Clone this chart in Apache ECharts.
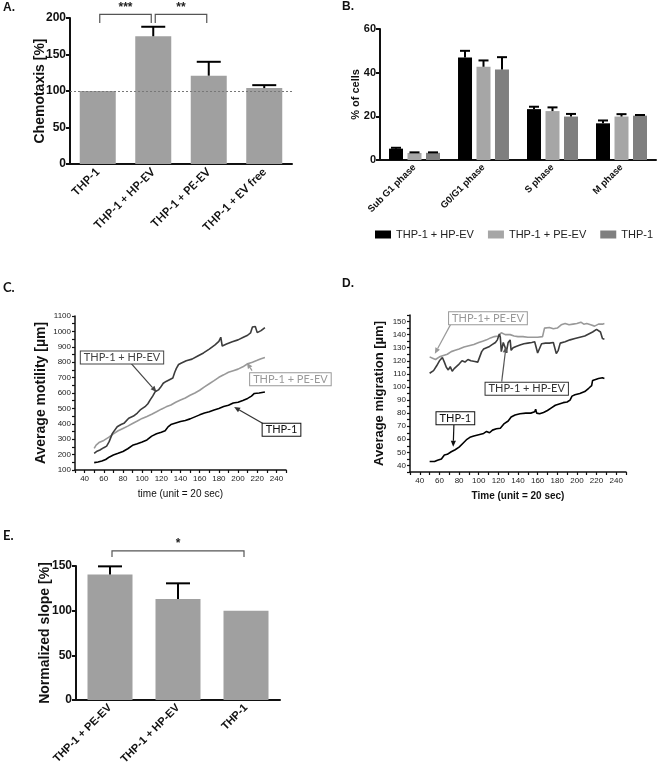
<!DOCTYPE html>
<html><head><meta charset="utf-8">
<script src="https://cdn.jsdelivr.net/npm/echarts@6/dist/echarts.min.js"></script>
<style>html,body{margin:0;padding:0;background:#fff}#c{width:660px;height:771px}</style>
</head><body><div id="c"></div>
<script>
// ---------- Panel A: chemotaxis ----------
const catsA = ['THP-1', 'THP-1 + HP-EV', 'THP-1 + PE-EV', 'THP-1 + EV free'];
const valsA = [100, 175, 121, 104];
const errA  = [0, 13, 19, 4];
const bracketsA = [[0, 1, 205, 193, '***'], [1, 2, 205, 193, '**']];

// ---------- Panel B: cell cycle ----------
const catsB = ['Sub G1 phase', 'G0/G1 phase', 'S phase', 'M phase'];
const namesB = ['THP-1 + HP-EV', 'THP-1 + PE-EV', 'THP-1'];
const hpB  = [5.2, 47.0, 23.3, 16.8];
const hpBe = [0.4, 3.0, 1.1, 1.3];
const peB  = [3.2, 42.7, 22.4, 19.9];
const peBe = [0.3, 2.9, 1.7, 1.1];
const thB  = [3.3, 41.5, 19.9, 20.3];
const thBe = [0.2, 5.6, 1.2, 0.3];

// ---------- Panel C: average motility ----------
const motHp = [[50,208],[53,222],[56,230],[60,245],[63,255],[65.6,284],[69,338],[74,381],[78,395],[81,403],[86,436],[91,450],[95,470],[98,490],[103,511],[106,530],[108.4,555],[111,580],[113.5,608],[117,620],[119,635],[122,663],[125,675],[127,684],[132,697],[134,735],[135.7,760],[138,785],[141,795],[146,810],[152,820],[158,840],[164,860],[170,885],[176,912],[180,935],[182,962],[183.5,905],[188,918],[194,933],[200,945],[205,960],[210,975],[213,990],[215,1028],[218,1032],[220,992],[224,1005],[228,1025]];
const motPe = [[50,240],[52,262],[55,278],[60,292],[65,312],[70,335],[75,355],[80,370],[85,385],[90,402],[95,418],[100,435],[105,448],[110,462],[115,478],[120,495],[125,510],[130,522],[135,540],[140,555],[145,568],[150,585],[155,600],[160,618],[165,640],[170,660],[175,680],[180,702],[185,718],[190,735],[195,745],[200,755],[205,770],[210,790],[215,800],[220,812],[224,822],[228,830]];
const motTh = [[50,148],[54,152],[58,158],[62,168],[66,185],[70,197],[75,208],[80,220],[85,238],[90,260],[95,270],[100,282],[105,295],[110,320],[115,335],[120,345],[124,355],[127,380],[130,395],[135,405],[140,415],[145,422],[150,432],[155,445],[160,458],[165,470],[170,478],[175,490],[180,500],[185,512],[190,520],[195,535],[200,540],[205,552],[210,565],[214,580],[217,597],[222,600],[228,607]];

// ---------- Panel D: average migration ----------
const migTh = [[50,43],[55,43],[58,44],[62,45],[64,46],[65,48],[68,48.5],[72,50.5],[76,52],[80,54],[84,57],[88,60],[91,61.5],[95,62.5],[100,63.5],[105,64.5],[108,66],[111,65],[114,67],[118,68],[122,68.5],[124,68],[126,72],[130,74],[133,77],[137,78.5],[142,79.5],[148,80],[153,80],[157,81],[158,83],[159,80],[162,79.5],[166,80.5],[170,82],[174,84],[178,86],[182,87],[186,88],[190,88.5],[193,90],[195,93],[198,94],[203,95],[208,96.5],[212,99],[215,101],[216,105],[218,106.5],[222,106.5],[226,107],[228,106.5]];
const migPe = [[50,123],[53,122],[56,121],[60,123],[64,124],[68,125],[72,127],[76,128],[80,129],[85,130.5],[90,131.5],[95,132.5],[100,134],[104,135],[108,136],[112,137.5],[116,138.5],[120,139],[123,141.5],[127,140],[132,140],[136,139],[140,138.5],[145,138.5],[150,138],[155,138],[160,138],[165,138.5],[167,145],[172,145.5],[176,144.5],[180,145],[184,147.5],[188,148.5],[192,147.5],[196,148],[200,148.5],[204,149.5],[207,148],[210,148.5],[214,147.5],[218,146.5],[222,148],[226,148],[228,148.5]];
const migHp = [[50,110.5],[52,110],[54,112.5],[57,116],[60,120],[63,122.5],[65,119],[67,115],[69,113],[71,115.5],[73,112],[75,114],[77,115.5],[80,117.5],[83,120],[86,119],[89,121],[92,120],[96,119.5],[99,119],[101,123],[103,127],[105,129],[108,130],[111,131],[114,132.5],[117,134],[119,136],[121,140.5],[122,138],[123,127],[125,134],[127,130],[128,126],[130,134],[132,136],[133,128],[135,130],[138,131],[142,132],[146,133],[150,133.5],[154,134],[157,134.5],[159,135],[160,126],[162,125.5],[164,133],[168,133.5],[172,133.5],[176,134],[178,133],[179,125.5],[181,128],[183,133.5],[188,134.5],[193,136],[198,137],[203,138],[208,139],[212,140.5],[216,142],[220,144],[222,145],[224,142],[225,141],[226,137],[228,136.5]];

// ---------- Panel E: normalized slope ----------
const catsE = ['THP-1 + PE-EV', 'THP-1 + HP-EV', 'THP-1'];
const valsE = [140.6, 113, 100];
const errE  = [9, 17.6, 0];
const bracketsE = [[0, 2, 167, 160, '*']];

// ---------- annotations (data coordinates) ----------
const notesC = [
  {text:'THP-1 + HP-EV', box:[79,830], from:[88,795], tip:[115,606], color:'#444', line:'#444'},
  {text:'THP-1 + PE-EV', box:[254.6,690], from:[214.6,745], tip:[209.2,797], color:'#999', line:'#999'},
  {text:'THP-1', box:[245.3,362], from:[228.7,392], tip:[195.9,509], color:'#111', line:'#333'}
];
const notesD = [
  {text:'THP-1+ PE-EV', box:[109.4,152.6], from:[72.1,148.8], tip:[55.3,125.3], color:'#999', line:'#999'},
  {text:'THP-1 + HP-EV', box:[148.9,98.6], from:[123.4,104.1], tip:[127.8,130.9], color:'#333', line:'#555'},
  {text:'THP-1', box:[76.2,76], from:[74.7,70.9], tip:[74,54.3], color:'#111', line:'#111'}
];

const AR = 'Liberation Sans, Arial, sans-serif';
const CAL = 'Lato, Open Sans, sans-serif';

function errSeries(xi, yi, vals, errs, offset, capW) {
  return {
    type: 'custom', xAxisIndex: xi, yAxisIndex: yi, z: 5, silent: true,
    data: vals.map((v, i) => [i, v, v + errs[i]]),
    renderItem: (p, api) => {
      if (api.value(2) <= api.value(1)) return null;
      const b = api.coord([api.value(0), api.value(1)]);
      const t = api.coord([api.value(0), api.value(2)]);
      const x = b[0] + offset;
      return {type: 'group', children: [
        {type: 'line', shape: {x1: x, y1: b[1], x2: x, y2: t[1]}, style: {stroke: '#000', lineWidth: 2}},
        {type: 'line', shape: {x1: x - capW / 2, y1: t[1], x2: x + capW / 2, y2: t[1]}, style: {stroke: '#000', lineWidth: 2}}
      ]};
    }
  };
}
function bracketSeries(xi, yi, brs) {
  return {
    type: 'custom', xAxisIndex: xi, yAxisIndex: yi, z: 5, silent: true, clip: false,
    data: brs.map(b => [b[0], b[1], b[2], b[3]]),
    renderItem: (p, api) => {
      const l = api.coord([api.value(0), api.value(2)]);
      const r = api.coord([api.value(1), api.value(2)]);
      const leg = api.coord([api.value(0), api.value(3)]);
      const x1 = l[0] + 2, x2 = r[0] - 2;
      return {type: 'group', children: [
        {type: 'polyline', shape: {points: [[x1, leg[1]], [x1, l[1]], [x2, l[1]], [x2, leg[1]]]}, style: {stroke: '#555', lineWidth: 1.2, fill: null}},
        {type: 'text', x: (x1 + x2) / 2, y: l[1] - 1, style: {text: brs[p.dataIndex][4], align: 'center', verticalAlign: 'bottom', fill: '#222', font: 'bold 12px ' + AR}}
      ]};
    }
  };
}
function noteSeries(xi, yi, notes) {
  return {
    type: 'custom', xAxisIndex: xi, yAxisIndex: yi, z: 10, silent: true, clip: false,
    data: notes.map(n => [n.box[0], n.box[1], n.from[0], n.from[1], n.tip[0], n.tip[1]]),
    renderItem: (p, api) => {
      const n = notes[p.dataIndex];
      const b = api.coord([api.value(0), api.value(1)]);
      const f = api.coord([api.value(2), api.value(3)]);
      const t = api.coord([api.value(4), api.value(5)]);
      const dx = t[0] - f[0], dy = t[1] - f[1], L = Math.hypot(dx, dy), ux = dx / L, uy = dy / L;
      const hl = 6, hw = 2.6;
      const bx = t[0] - ux * hl, by = t[1] - uy * hl;
      return {type: 'group', children: [
        {type: 'line', shape: {x1: f[0], y1: f[1], x2: bx, y2: by}, style: {stroke: n.line, lineWidth: 1.2}},
        {type: 'polygon', shape: {points: [[t[0], t[1]], [bx - uy * hw, by + ux * hw], [bx + uy * hw, by - ux * hw]]}, style: {fill: n.line}},
        {type: 'text', x: b[0], y: b[1], style: {text: n.text, align: 'center', verticalAlign: 'middle', fill: n.color, font: '11px ' + CAL, backgroundColor: '#fff', borderColor: n.color, borderWidth: 1, padding: [1, 3, 0, 3]}}
      ]};
    }
  };
}

const boldAxis = {lineStyle: {color: '#111', width: 2}};
const catX = (gi, data, size, fam) => ({
  type: 'category', gridIndex: gi, data: data,
  axisLine: boldAxis, axisTick: {alignWithLabel: true, length: 4, lineStyle: {color: '#111', width: 2}},
  axisLabel: {rotate: 45, interval: 0, margin: 6, fontSize: size, fontWeight: 'bold', fontFamily: fam, color: '#111'}
});
const valY = (gi, min, max, interval, name, nameGap, nameSize, labelSize) => ({
  type: 'value', gridIndex: gi, min: min, max: max, interval: interval,
  splitLine: {show: false}, axisLine: {show: true, lineStyle: {color: '#111', width: 2}},
  axisTick: {show: true, length: 4, lineStyle: {color: '#111', width: 2}},
  axisLabel: {fontSize: labelSize, fontWeight: 'bold', fontFamily: AR, color: '#111', margin: 4},
  name: name, nameLocation: 'middle', nameGap: nameGap, nameMoveOverlap: false,
  nameTextStyle: {fontSize: nameSize, fontWeight: 'bold', fontFamily: AR, color: '#111'}
});
const lineX = (gi, name, bold) => ({
  type: 'value', gridIndex: gi, min: 30, max: 250, interval: 10,
  splitLine: {show: false}, axisLine: {lineStyle: {color: '#111', width: 1.5}},
  axisTick: {show: true, length: 3, lineStyle: {color: '#111', width: 1.2}},
  axisLabel: {interval: 0, fontSize: 8, fontFamily: AR, color: '#222', margin: 5,
    formatter: v => (v % 20 === 0 && v >= 40 && v <= 240) ? String(v) : ''},
  name: name, nameLocation: 'middle', nameGap: 19, nameMoveOverlap: false,
  nameTextStyle: {fontSize: 10, fontWeight: bold ? 'bold' : 'normal', fontFamily: AR, color: '#111'}
});
const lineY = (gi, min, max, interval, step, name, gap, size) => ({
  type: 'value', gridIndex: gi, min: min, max: max, interval: interval,
  splitLine: {show: false}, axisLine: {show: true, lineStyle: {color: '#111', width: 1.5}},
  axisTick: {show: true, length: 3, lineStyle: {color: '#111', width: 1.2}},
  axisLabel: {interval: 0, fontSize: 8, fontFamily: AR, color: '#222', margin: 4,
    formatter: v => (v % step === 0) ? String(v) : ''},
  name: name, nameLocation: 'middle', nameGap: gap, nameMoveOverlap: false,
  nameTextStyle: {fontSize: size, fontWeight: 'bold', fontFamily: AR, color: '#111'}
});
const lineS = (name, xi, yi, data, color) => ({
  type: 'line', name: name, xAxisIndex: xi, yAxisIndex: yi, data: data, showSymbol: false,
  symbol: 'none', lineStyle: {color: color, width: 1.6}, itemStyle: {color: color}, z: 3
});

const colB = ['#000000', '#a6a6a6', '#7f7f7f'];
const valsB = [hpB, peB, thB], errsB = [hpBe, peBe, thBe];
const barW = 14, barStep = 18.5;

const option = {
  animation: false,
  backgroundColor: '#fff',
  grid: [
    {left: 70, top: 18, width: 222, height: 146, outerBoundsMode: 'none'},
    {left: 380, top: 29, width: 276, height: 131, outerBoundsMode: 'none'},
    {left: 75, top: 316, width: 211, height: 154, outerBoundsMode: 'none'},
    {left: 410, top: 315, width: 216, height: 157, outerBoundsMode: 'none'},
    {left: 76, top: 566, width: 204, height: 134, outerBoundsMode: 'none'}
  ],
  legend: {
    data: namesB, left: 375, top: 229, width: 300, padding: 0, itemWidth: 16, itemHeight: 8, itemGap: 14, icon: 'rect',
    textStyle: {fontSize: 11, fontFamily: AR, color: '#222'}, selectedMode: false
  },
  xAxis: [
    catX(0, catsA, 11.5, CAL),
    catX(1, catsB, 9.5, AR),
    lineX(2, 'time (unit = 20 sec)', false),
    lineX(3, 'Time (unit = 20 sec)', true),
    catX(4, catsE, 11, AR)
  ],
  yAxis: [
    valY(0, 0, 200, 50, 'Chemotaxis [%]', 23, 14, 12),
    valY(1, 0, 60, 20, '% of cells', 19, 11, 11),
    lineY(2, 100, 1100, 50, 100, 'Average motility [µm]', 27, 14),
    lineY(3, 35, 155, 5, 10, 'Average migration [µm]', 24, 13),
    valY(4, 0, 150, 50, 'Normalized slope [%]', 24, 14, 12)
  ],
  graphic: [
    {type: 'text', left: 3, top: 2, style: {text: 'A.', font: 'bold 12px ' + AR, fill: '#111'}},
    {type: 'text', left: 342, top: 1, style: {text: 'B.', font: 'bold 12px ' + AR, fill: '#111'}},
    {type: 'text', left: 3, top: 281, style: {text: 'C.', font: 'bold 13px ' + CAL, fill: '#111'}},
    {type: 'text', left: 342, top: 278, style: {text: 'D.', font: 'bold 12px ' + AR, fill: '#111'}},
    {type: 'text', left: 3, top: 529, style: {text: 'E.', font: 'bold 13px ' + CAL, fill: '#111'}}
  ],
  series: [
    {type: 'bar', name: 'Chemotaxis', xAxisIndex: 0, yAxisIndex: 0, data: valsA, barWidth: 36,
      itemStyle: {color: '#a0a0a0'},
      markLine: {silent: true, symbol: 'none', label: {show: false}, data: [{yAxis: 100}],
        lineStyle: {type: [2, 2], color: '#777', width: 1}}},
    errSeries(0, 0, valsA, errA, 0, 24),
    bracketSeries(0, 0, bracketsA),
    ...namesB.map((n, k) => ({
      type: 'bar', name: n, xAxisIndex: 1, yAxisIndex: 1, data: valsB[k], barWidth: barW, barGap: '32%',
      itemStyle: {color: colB[k]}
    })),
    ...namesB.map((n, k) => errSeries(1, 1, valsB[k], errsB[k], (k - 1) * barStep, 10)),
    lineS('motility PE-EV', 2, 2, motPe, '#999999'),
    lineS('motility THP-1', 2, 2, motTh, '#000000'),
    lineS('motility HP-EV', 2, 2, motHp, '#3c3c3c'),
    noteSeries(2, 2, notesC),
    lineS('migration PE-EV', 3, 3, migPe, '#999999'),
    lineS('migration HP-EV', 3, 3, migHp, '#3c3c3c'),
    lineS('migration THP-1', 3, 3, migTh, '#000000'),
    noteSeries(3, 3, notesD),
    {type: 'bar', name: 'Slope', xAxisIndex: 4, yAxisIndex: 4, data: valsE, barWidth: 45,
      itemStyle: {color: '#a0a0a0'}},
    errSeries(4, 4, valsE, errE, 0, 24),
    bracketSeries(4, 4, bracketsE)
  ]
};
const chart = echarts.init(document.getElementById('c'), null, {renderer: 'canvas'});
chart.setOption(option);
</script>
</body></html>
